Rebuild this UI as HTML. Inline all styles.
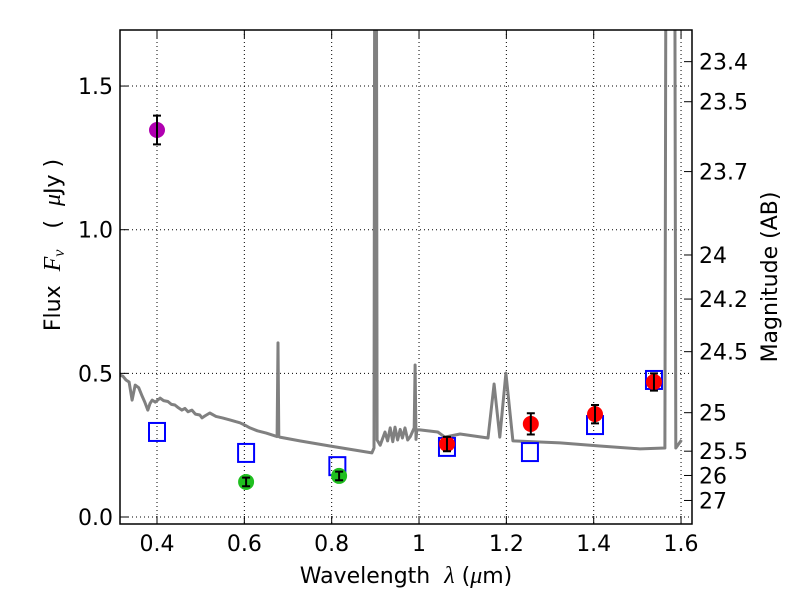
<!DOCTYPE html>
<html><head><meta charset="utf-8"><style>
body{margin:0;background:#fff;}
svg text{font-family:"DejaVu Sans","Liberation Sans",sans-serif;fill:#000;}
</style></head><body>
<svg id="chart" width="800" height="600" viewBox="0 0 800 600" xmlns="http://www.w3.org/2000/svg"></svg>
<script>
const xTicks=[0.4,0.6,0.8,1.0,1.2,1.4,1.6];
const xTickLabels=["0.4","0.6","0.8","1","1.2","1.4","1.6"];
const yTicks=[0.0,0.5,1.0,1.5];
const yTickLabels=["0.0","0.5","1.0","1.5"];
const magTicks=[23.4,23.5,23.7,24,24.2,24.5,25,25.5,26,27];
const specLam=[0.315,0.322,0.329,0.336,0.343,0.350,0.358,0.366,0.372,0.379,0.384,0.389,0.396,0.407,0.415,0.425,0.433,0.441,0.449,0.457,0.464,0.471,0.480,0.488,0.498,0.503,0.510,0.521,0.535,0.550,0.567,0.580,0.590,0.601,0.613,0.630,0.650,0.675,0.677,0.679,0.681,0.727,0.796,0.892,0.897,0.899,0.902,0.904,0.911,0.922,0.928,0.934,0.940,0.945,0.951,0.957,0.962,0.968,0.974,0.980,0.989,0.991,0.993,0.995,1.002,1.043,1.059,1.094,1.158,1.172,1.185,1.199,1.215,1.323,1.414,1.506,1.563,1.566,1.577,1.585,1.588,1.601];
const specFlux=[0.494,0.490,0.477,0.470,0.407,0.459,0.450,0.420,0.400,0.372,0.395,0.407,0.400,0.414,0.405,0.402,0.392,0.390,0.380,0.372,0.378,0.366,0.372,0.358,0.355,0.345,0.352,0.362,0.350,0.345,0.338,0.332,0.328,0.320,0.310,0.300,0.292,0.280,0.606,0.280,0.278,0.265,0.247,0.223,0.240,2.5,2.5,0.268,0.250,0.296,0.265,0.310,0.262,0.313,0.268,0.305,0.275,0.310,0.268,0.280,0.310,0.529,0.270,0.303,0.303,0.296,0.278,0.289,0.275,0.463,0.278,0.501,0.265,0.258,0.247,0.237,0.240,2.5,2.5,2.5,0.240,0.268];
const purpleLam=[0.4], purpleFlux=[1.347], purpleErr=[0.05];
const greenLam=[0.604,0.817], greenFlux=[0.122,0.143], greenErr=[0.015,0.015];
const redLam=[1.064,1.256,1.403,1.538], redFlux=[0.254,0.324,0.358,0.470], redErr=[0.025,0.037,0.032,0.03];
const modelLam=[0.4,0.604,0.813,1.064,1.254,1.403,1.538];
const modelFlux=[0.296,0.223,0.177,0.244,0.226,0.320,0.477];

const L=120,R=692,T=30,B=524;
const X=v=>157+(v-0.4)*436.7;
const Y=v=>517-v*287.3;
const svg=document.getElementById('chart');
const NS="http://www.w3.org/2000/svg";
function mk(tag,attrs,parent){const e=document.createElementNS(NS,tag);for(const k in attrs)e.setAttribute(k,attrs[k]);(parent||svg).appendChild(e);return e;}

xTicks.forEach(t=>{const g=mk('line',{x1:X(t),x2:X(t),y1:T,y2:B,stroke:'#000','stroke-dasharray':'1,3','stroke-width':1});

});
yTicks.forEach(t=>{const g=mk('line',{x1:L,x2:R,y1:Y(t),y2:Y(t),stroke:'#000','stroke-dasharray':'1,3','stroke-width':1});

});

const defs=mk('defs',{});const cp=mk('clipPath',{id:'clip'},defs);mk('rect',{x:L,y:T,width:R-L,height:B-T},cp);

let d=specLam.map((l,i)=>(i?'L':'M')+X(l).toFixed(1)+','+Y(specFlux[i]).toFixed(1)).join(' ');
const sp=mk('path',{d:d,fill:'none',stroke:'#808080','stroke-width':3,'clip-path':'url(#clip)','stroke-linejoin':'round'});



modelLam.forEach((l,i)=>{const r=mk('rect',{x:X(l)-8,y:Y(modelFlux[i])-9,width:16,height:18,fill:'none',stroke:'#0000ff','stroke-width':2});

});

function pts(lams,fl,er,col,name){lams.forEach((l,i)=>{
 const c=mk('circle',{cx:X(l),cy:Y(fl[i]),r:8,fill:col});
 
 
 const x=X(l),y1=Y(fl[i]+er[i]),y2=Y(fl[i]-er[i]);
 const eb=mk('path',{d:`M${x},${y1}L${x},${y2}M${x-4},${y1}L${x+4},${y1}M${x-4},${y2}L${x+4},${y2}`,stroke:'#000','stroke-width':2,fill:'none'});
 
 });}
pts(purpleLam,purpleFlux,purpleErr,'#b000b0','uv-point');
pts(greenLam,greenFlux,greenErr,'#1fbf1f','optical-point');
pts(redLam,redFlux,redErr,'#ff0000','nir-point');

const fr=mk('rect',{x:L,y:T,width:R-L,height:B-T,fill:'none',stroke:'#000','stroke-width':1.5});



xTicks.forEach((t,i)=>{mk('line',{x1:X(t),x2:X(t),y1:B,y2:B-8,stroke:'#000'});mk('line',{x1:X(t),x2:X(t),y1:T,y2:T+8,stroke:'#000'});
 const tx=mk('text',{x:X(t),y:B+27,'text-anchor':'middle','font-size':22});tx.textContent=xTickLabels[i];
 
 });
yTicks.forEach((t,i)=>{mk('line',{x1:L,x2:L+8,y1:Y(t),y2:Y(t),stroke:'#000'});
 const tx=mk('text',{x:L-7,y:Y(t)+8,'text-anchor':'end','font-size':22});tx.textContent=yTickLabels[i];
 
 });
magTicks.forEach(m=>{const f=Math.pow(10,(23.9-m)/2.5);const y=Y(f);
 mk('line',{x1:R,x2:R-8,y1:y,y2:y,stroke:'#000'});
 const tx=mk('text',{x:R+7,y:y+8,'font-size':22});tx.textContent=String(m);
 
 });

const xt=mk('text',{x:406,y:583,'text-anchor':'middle','font-size':22,'xml:space':'preserve'});
xt.setAttribute('style','white-space:pre');
xt.innerHTML='Wavelength  <tspan font-family="Liberation Serif" font-style="italic" font-size="24">λ</tspan> (<tspan font-family="Liberation Serif" font-style="italic" font-size="24">μ</tspan>m)';


const yt=mk('text',{x:0,y:0,'text-anchor':'middle','font-size':22,transform:'translate(60,245) rotate(-90)'});
yt.setAttribute('style','white-space:pre');
yt.innerHTML='Flux  <tspan font-family="Liberation Serif" font-style="italic" font-size="24">F</tspan><tspan font-family="Liberation Serif" font-style="italic" font-size="16" dy="4">ν</tspan><tspan dy="-4">   (  </tspan><tspan font-family="Liberation Serif" font-style="italic" font-size="24">μ</tspan>Jy )';


const rt=mk('text',{x:0,y:0,'text-anchor':'middle','font-size':22,transform:'translate(777,277) rotate(-90)'});
rt.textContent='Magnitude (AB)';


</script>
</body></html>
